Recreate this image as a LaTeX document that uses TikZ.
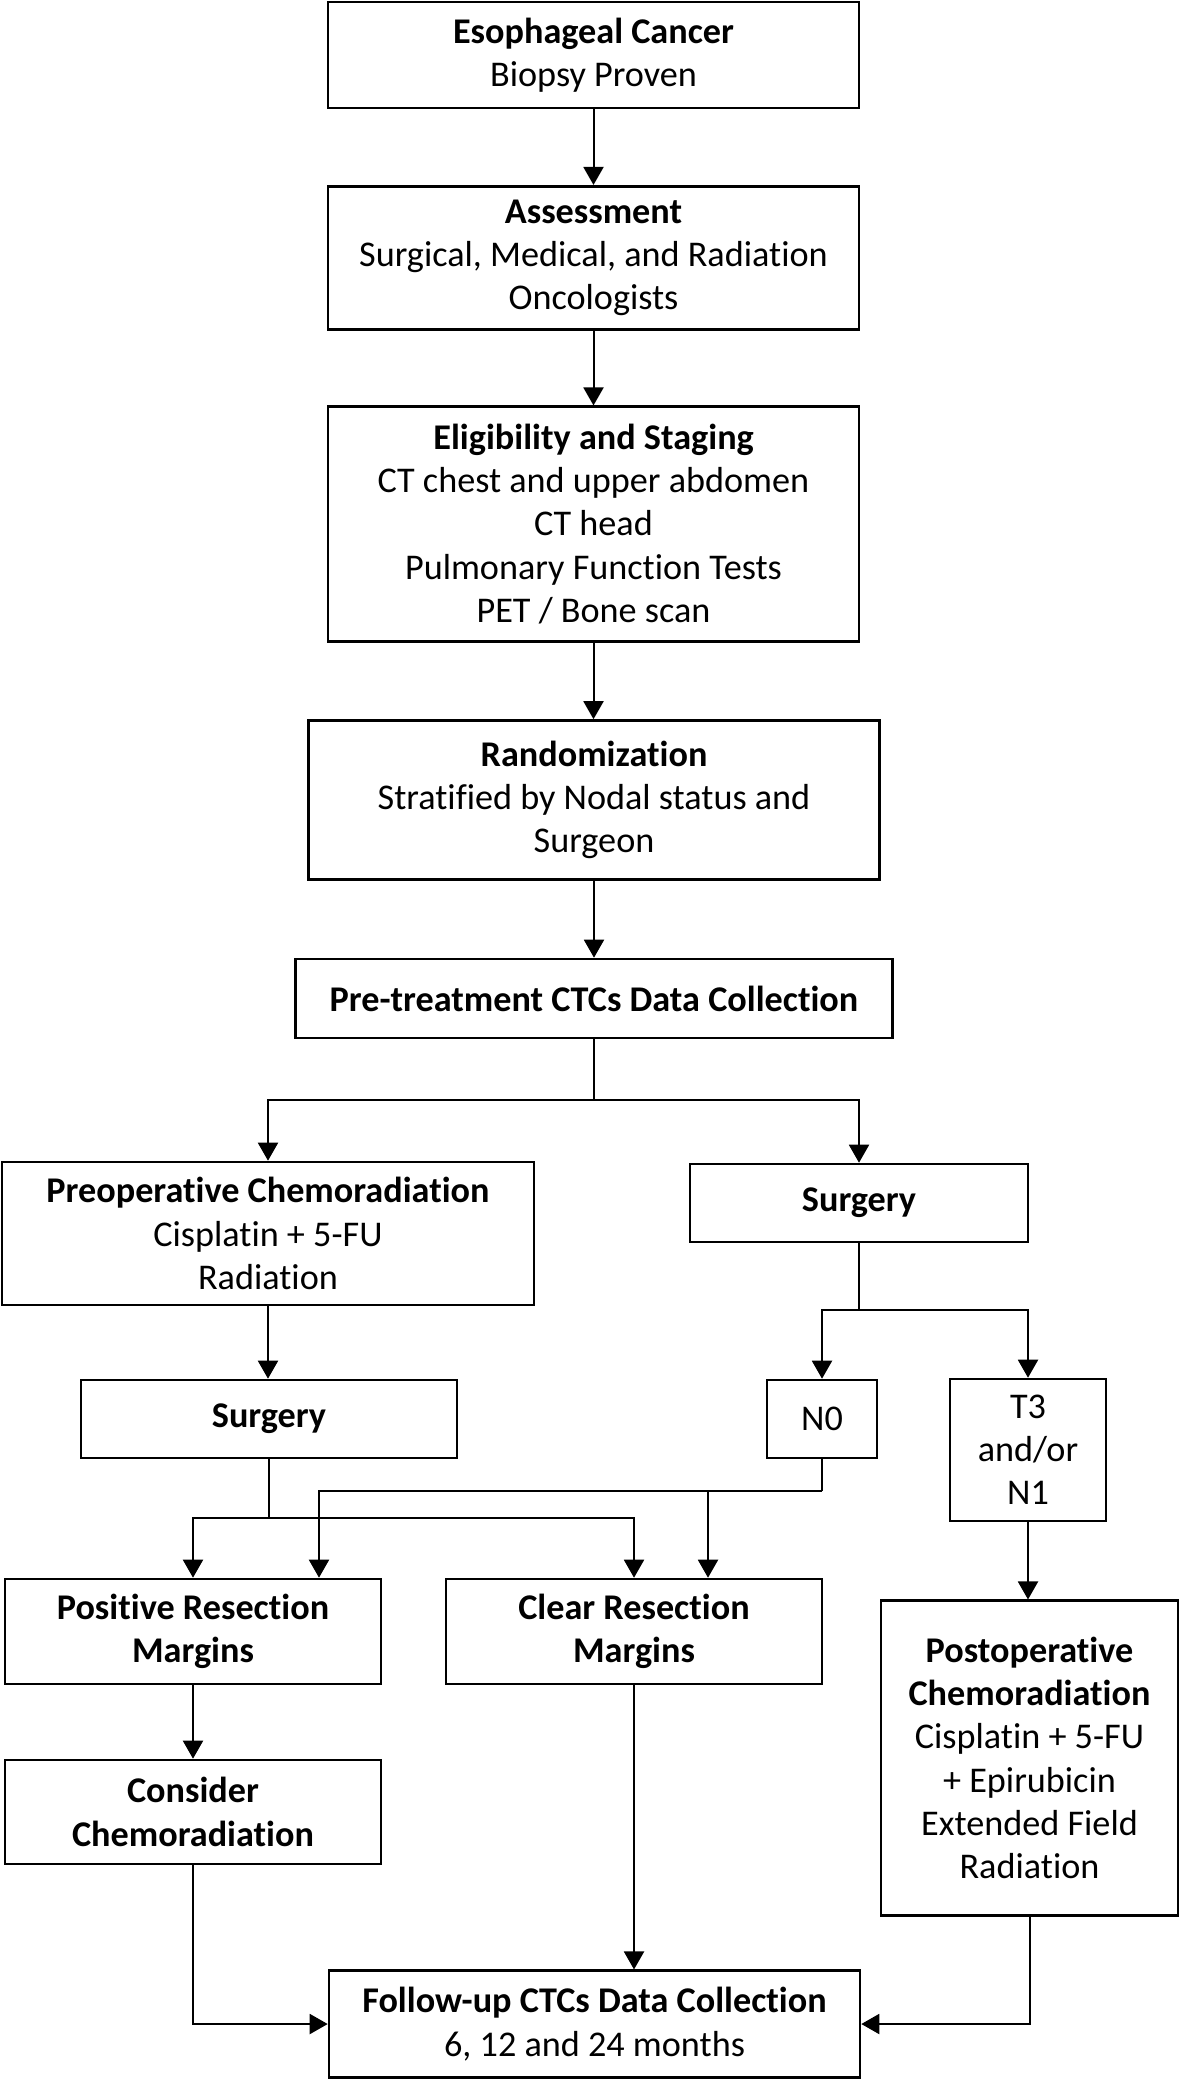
\documentclass[tikz,border=0pt]{standalone}
\usepackage{fontspec}
\setmainfont{Carlito}[Ligatures=NoCommon]
\usetikzlibrary{arrows.meta,calc}
\begin{document}
\begin{tikzpicture}[x=0.5pt,y=-0.5pt,
  box/.style={draw,line width=1.3pt,inner sep=0pt,align=center,
    font=\fontsize{18.1}{21.6}\selectfont},
  line/.style={line width=1pt},
  arr/.style={line width=1pt,-{Triangle[width=10pt,length=9pt]}}]
\useasboundingbox (0,0) rectangle (1180,2081);
\node[box,minimum width=265.5pt,minimum height=53pt] (esoph) at (593.5,55) {\textbf{Esophageal Cancer}\\Biopsy Proven};
\node[box,minimum width=265.5pt,minimum height=71.75pt] (assess) at (593.5,258) {\textbf{Assessment}\\Surgical, Medical, and Radiation\\Oncologists};
\node[box,minimum width=265.5pt,minimum height=117.25pt] (elig) at (593.5,524) {\textbf{Eligibility and Staging}\\CT chest and upper abdomen\\CT head\\Pulmonary Function Tests\\PET / Bone scan};
\node[box,minimum width=285.5pt,minimum height=79.5pt] (random) at (594,800) {\textbf{Randomization}\\Stratified by Nodal status and\\Surgeon};
\node[box,minimum width=298.75pt,minimum height=39.5pt] (pretreat) at (594,998.5) {\textbf{Pre-treatment CTCs Data Collection}};
\node[box,minimum width=266pt,minimum height=71.5pt] (preop) at (268,1233.5) {\textbf{Preoperative Chemoradiation}\\Cisplatin + 5-FU\\Radiation};
\node[box,minimum width=169pt,minimum height=39pt] (surgR) at (859,1203) {\textbf{Surgery}};
\node[box,minimum width=188pt,minimum height=39pt] (surgL) at (269,1419) {\textbf{Surgery}};
\node[box,minimum width=55pt,minimum height=39pt] (n0) at (822,1419) {N0};
\node[box,minimum width=78pt,minimum height=71pt] (t3) at (1028,1450) {T3\\and/or\\N1};
\node[box,minimum width=188pt,minimum height=52.5pt] (pos) at (193,1631.5) {\textbf{Positive Resection}\\\textbf{Margins}};
\node[box,minimum width=188pt,minimum height=52.5pt] (clear) at (634,1631.5) {\textbf{Clear Resection}\\\textbf{Margins}};
\node[box,minimum width=188pt,minimum height=52pt] (consider) at (193,1812) {\textbf{Consider}\\\textbf{Chemoradiation}};
\node[box,minimum width=148.5pt,minimum height=157.25pt] (postop) at (1029.5,1758) {\textbf{Postoperative}\\\textbf{Chemoradiation}\\Cisplatin + 5-FU\\+ Epirubicin\\Extended Field\\Radiation};
\node[box,minimum width=265.5pt,minimum height=53.25pt] (follow) at (594.5,2024) {\textbf{Follow-up CTCs Data Collection}\\6, 12 and 24 months};

\draw[arr] (esoph) -- (assess);
\draw[arr] (assess) -- (elig);
\draw[arr] (elig.south) -- (elig.south |- random.north);
\draw[arr] (random.south) -- (random.south |- pretreat.north);
\coordinate (s1) at (594,1099.5);
\draw[line] (pretreat.south) -- (s1);
\draw[arr] (s1) -| (preop.north);
\draw[arr] (s1) -| (surgR.north);
\draw[arr] (preop.south) -- (preop.south |- surgL.north);
\coordinate (s2) at (859,1310);
\draw[line] (surgR.south) -- (s2);
\draw[arr] (s2) -| (n0.north);
\draw[arr] (s2) -| (t3.north);
\coordinate (j1) at (269,1518);
\draw[line] (surgL.south) -- (j1);
\draw[arr] (j1) -| (pos.north);
\draw[arr] (j1) -| (clear.north);
\coordinate (j2) at (822,1491);
\draw[line] (n0.south) -- (j2);
\draw[arr] (j2) -| ($(pos.north)+(126,0)$);
\draw[arr] (j2) -| ($(clear.north)+(74,0)$);
\draw[arr] (pos) -- (consider);
\draw[arr] (t3.south) -- (t3.south |- postop.north);
\draw[arr] (consider.south) |- (follow.west);
\draw[arr] (clear.south) -- (clear.south |- follow.north);
\draw[arr] (postop.south) |- (follow.east);
\end{tikzpicture}
\end{document}
